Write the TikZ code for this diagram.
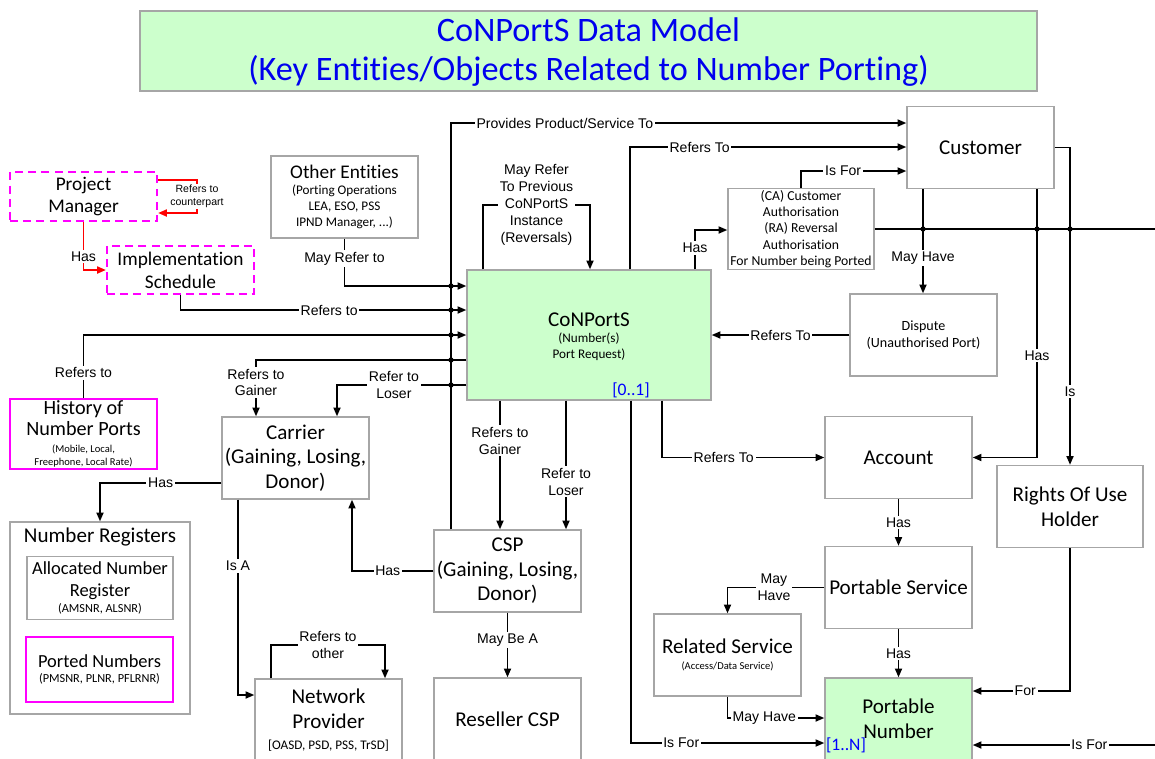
\documentclass[tikz,border=0pt]{standalone}
\usepackage{fontspec}
\setmainfont{Carlito}[Ligatures=NoCommon]
\newfontfamily\lblfont{Liberation Sans}
\usetikzlibrary{arrows.meta}
\definecolor{keygreen}{HTML}{CCFFCC}
\definecolor{boxgray}{HTML}{A6A6A6}
\definecolor{mag}{HTML}{FF00FF}
\definecolor{titleblue}{HTML}{0000EE}
\newcommand\subtxt{\fontsize{7.5}{9.2}\selectfont}
\newcommand\tinytxt{\fontsize{6}{7}\selectfont}

\begin{document}
\begin{tikzpicture}[x=0.02cm,y=-0.02cm,
  ent/.style={draw=boxgray,line width=0.8pt,minimum width=2.94cm,minimum height=1.64cm,align=center,inner sep=1pt,font=\fontsize{12}{14}\selectfont},
  keyent/.style={ent,fill=keygreen},
  pment/.style={ent,draw=mag,line width=1.3pt,dash pattern=on 4.5pt off 3pt,minimum height=0.97cm,font=\fontsize{11}{13}\selectfont},
  wire/.style={line width=1pt},
  conn/.style={wire,-{Triangle[length=5pt,width=4pt]}},
  redconn/.style={conn,red},
  lbl/.style={fill=white,text=black,inner sep=1pt,align=center,font=\lblfont\fontsize{8}{9.6}\selectfont},
  card/.style={text=blue,font=\fontsize{10}{12}\selectfont,inner sep=0pt}]
  \useasboundingbox (0,0) rectangle (1155,758);

  \node[keyent,minimum width=17.94cm,minimum height=1.6cm] (title) at (588.5,51) {};
  \node[text=titleblue,align=center,font=\fontsize{19.5}{22.7}\selectfont] (title-t) at (588.5,52) {CoNPortS Data Model\\(Key Entities/Objects Related to Number Porting)};

  \node[pment] (pm) at (83.5,196.5) {Project\\Manager};
  \node[pment] (impl) at (180.5,270) {Implementation\\Schedule};
  \node[ent,font=\subtxt] (other) at (344.5,197) {\fontsize{11}{13}\selectfont Other Entities\\(Porting Operations\\LEA, ESO, PSS\\IPND Manager, ...)};
  \node[keyent,minimum width=4.88cm,minimum height=2.6cm] (conports) at (589,335) {};
  \node[align=center,font=\subtxt] (conports-t) at (589,337) {\fontsize{12}{14}\selectfont CoNPortS\\(Number(s)\\Port Request)};
  \node[ent] (cust) at (980.5,147.5) {Customer};
  \node[ent,minimum width=2.92cm,minimum height=1.6cm,font=\fontsize{7.8}{9.2}\selectfont] (ca) at (801,229) {(CA) Customer\\Authorisation\\(RA) Reversal\\Authorisation\\For Number being Ported};
  \node[ent,font=\fontsize{8}{9.6}\selectfont] (dispute) at (923.5,335) {Dispute\\(Unauthorised Port)};
  \node[ent,draw=mag,line width=1.3pt,minimum height=1.32cm,font=\fontsize{11.5}{12}\selectfont] (hist) at (83.5,434) {History of\\Number Ports\\[-2.2pt]\tinytxt (Mobile, Local,\\[-4.6pt]\tinytxt Freephone, Local Rate)};
  \node[ent] (carrier) at (295.5,458) {Carrier\\(Gaining, Losing,\\Donor)};
  \node[ent,minimum width=3.6cm,minimum height=3.84cm] (numreg) at (100,618) {};
  \node[font=\fontsize{12}{14}\selectfont,inner sep=0pt] (numreg-t) at (100,537) {Number Registers};
  \node[ent,minimum width=2.92cm,minimum height=1.26cm,font=\fontsize{10.5}{12.5}\selectfont] (alloc) at (100,588) {Allocated Number\\Register\\[-3pt]\fontsize{7}{8.5}\selectfont (AMSNR, ALSNR)};
  \node[ent,draw=mag,line width=1.3pt,minimum height=1.3cm,font=\fontsize{10.5}{12.5}\selectfont] (ported) at (99.5,669.5) {Ported Numbers\\[-4pt]\fontsize{7}{8.5}\selectfont (PMSNR, PLNR, PFLRNR)};
  \node[ent] (csp) at (507.5,571) {CSP\\(Gaining, Losing,\\Donor)};
  \node[ent] (account) at (898.5,457.5) {Account};
  \node[ent,minimum width=2.92cm] (rights) at (1070,506.5) {Rights Of Use\\Holder};
  \node[ent] (portserv) at (898.5,587.5) {Portable Service};
  \node[ent] (relserv) at (727.5,655) {Related Service\\[-4.5pt]\tinytxt (Access/Data Service)};
  \node[keyent] (portnum) at (898.5,719) {Portable\\Number};
  \node[ent] (netprov) at (328.5,720) {Network\\Provider\\[-2pt]\fontsize{7.5}{9}\selectfont [OASD, PSD, PSS, TrSD]};
  \node[ent] (reseller) at (507.5,719) {Reseller CSP};
  \node[card] (card-a) at (631,390) {[0..1]};
  \node[card] (card-b) at (846,745) {[1..N]};
  \coordinate (edge-a) at (1155,229);
  \coordinate (edge-b) at (1155,745);

  \draw[redconn] (pm.east |- 0,180) -| node[lbl,pos=0.75,font=\lblfont\fontsize{6}{7.2}\selectfont]{Refers to\\counterpart} (197,213) -- (pm.east |- 0,213);
  \draw[redconn] (pm.south) |- node[lbl,pos=0.36]{Has} (impl.west);
  \draw[conn] (impl.south) |- node[lbl,pos=0.76]{Refers to} (conports.west |- 0,310);
  \draw[conn] (other.south) |- node[lbl,pos=0.21]{May Refer to} (conports.west |- 0,286);
  \draw[conn] (hist.north) |- node[lbl,pos=0.2]{Refers to} (conports.west |- 0,335);
  \draw[conn] (conports.west |- 0,360) -| node[lbl,pos=0.7]{Refers to\\Gainer} (carrier.north -| 256,0);
  \draw[conn] (conports.west |- 0,385) -| node[lbl,pos=0.28]{Refer to\\Loser} (carrier.north -| 337,0);
  \draw[conn] (csp.north -| 451,0) |- node[lbl,pos=0.625]{Provides Product/Service To} (cust.west |- 0,123);
  \draw[conn] (conports.north -| 483,0) -- (483,205) -- node[lbl]{May Refer\\To Previous\\CoNPortS\\Instance\\(Reversals)} (590,205) -- (conports.north -| 590,0);
  \draw[conn] (conports.north -| 630,0) |- node[lbl,pos=0.626]{Refers To} (cust.west |- 0,147);
  \draw[conn] (conports.north -| 695,0) |- node[lbl,pos=0.27]{Has} (ca.west |- 0,230);
  \draw[conn] (ca.north) |- node[lbl,pos=0.7]{Is For} (cust.west |- 0,171);
  \draw[wire] (ca.east) -- (edge-a);
  \draw[conn] (cust.south -| 923,0) -- node[lbl,pos=0.66]{May Have} (dispute.north -| 923,0);
  \draw[conn] (dispute.west) -- node[lbl]{Refers To} (conports.east);
  \draw[conn] (cust.south -| 1037,0) |- node[lbl,pos=0.31]{Has} (account.east);
  \draw[conn] (cust.east) -| node[lbl,pos=0.885]{Is} (rights.north);
  \draw[conn] (conports.south -| 662,0) |- node[lbl,pos=0.69]{Refers To} (account.west);
  \draw[conn] (conports.south -| 500,0) -- node[lbl,pos=0.31]{Refers to\\Gainer} (csp.north -| 500,0);
  \draw[conn] (conports.south -| 566,0) -- node[lbl,pos=0.63]{Refer to\\Loser} (csp.north -| 566,0);
  \draw[conn] (conports.south -| 631,0) |- node[lbl,pos=0.63]{Is For} (portnum.west |- 0,743);
  \draw[conn] (carrier.west |- 0,483) -| node[lbl,pos=0.25]{Has} (numreg.north);
  \draw[conn] (carrier.south -| 238,0) |- node[lbl,pos=0.17]{Is A} (netprov.west |- 0,695);
  \draw[conn] (csp.west) -| node[lbl,pos=0.28]{Has} (carrier.south -| 352,0);
  \draw[conn] (netprov.north -| 271,0) -- (271,645) -- node[lbl]{Refers to\\other} (385,645) -- (netprov.north -| 385,0);
  \draw[conn] (csp.south) -- node[lbl,pos=0.42]{May Be A} (reseller.north);
  \draw[conn] (account.south) -- node[lbl]{Has} (portserv.north);
  \draw[conn] (portserv.west) -| node[lbl,pos=0.26]{May\\Have} (relserv.north);
  \draw[conn] (portserv.south) -- node[lbl]{Has} (portnum.north);
  \draw[conn] (relserv.south) |- node[lbl,pos=0.69]{May Have} (portnum.west |- 0,718);
  \draw[conn] (rights.south) |- node[lbl,pos=0.73]{For} (portnum.east |- 0,691);
  \draw[conn] (edge-b) -- node[lbl,pos=0.36]{Is For} (portnum.east |- 0,745);
  \foreach \y in {286,310,335,360,385} \fill (451,\y) circle (1.5pt);
  \foreach \x in {923,1037,1070} \fill (\x,229) circle (1.5pt);
\end{tikzpicture}
\end{document}
